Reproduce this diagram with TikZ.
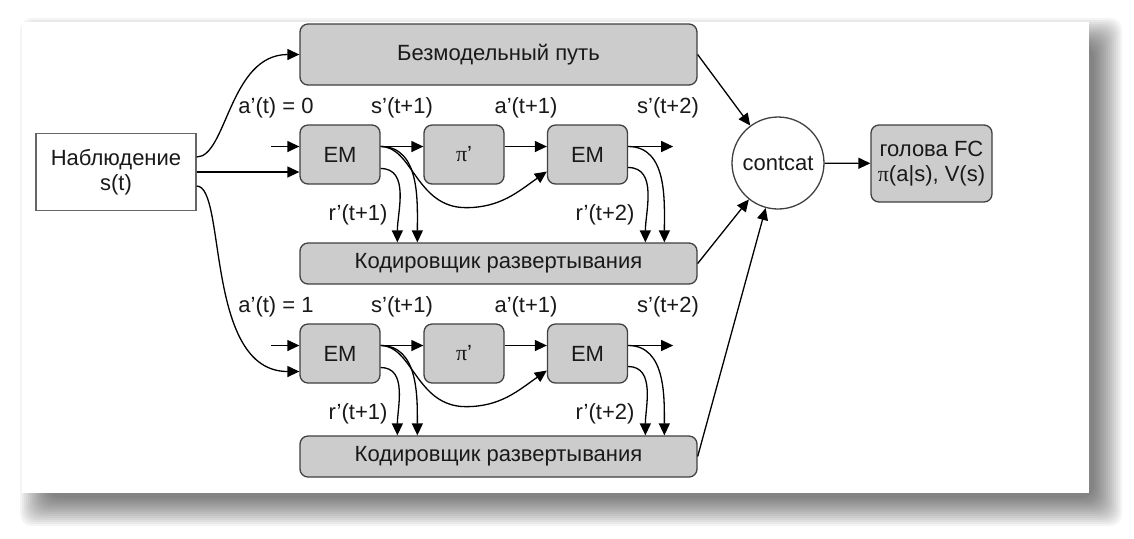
\documentclass[tikz,border=0pt]{standalone}
\usepackage{fontspec}
\setmainfont{Liberation Sans}
\newfontfamily\grfont{Liberation Serif}
\usetikzlibrary{arrows.meta,calc,positioning}
\tikzset{every picture/.style={line width=0.65pt}}

\begin{document}
\begin{tikzpicture}[x=0.5pt,y=-0.5pt,
    >={Triangle[length=6pt,width=5.5pt]},
    txt/.style={font=\fontsize{11}{12.5}\selectfont,text=black!90},
    blok/.style={txt,draw=black!75,fill=gray!40,rounded corners=4pt,inner sep=0pt},
    sm/.style={blok,minimum width=40pt,minimum height=29.5pt},
    wide/.style={blok,minimum width=198.5pt,minimum height=30.5pt},
    enc/.style={blok,minimum width=198.5pt,minimum height=20.5pt},
    lbl/.style={txt,inner sep=0pt}]
    \useasboundingbox (0,0) rectangle (1134,538);
    % тень и лист
    \foreach \i in {0,...,14}
        \fill[black,opacity=0.045,rounded corners=6pt] (48-2*\i,46-2*\i) rectangle (1094+2*\i,498+2*\i);
    \fill[white] (22,22) rectangle (1089,493);
    % вход и безмодельный путь
    \node[txt,draw=black!60,fill=white,minimum width=80pt,minimum height=38.5pt,align=center] (obs) at (116,172) {Наблюдение\\s(t)};
    \node[wide] (mf) at (498.5,54.5) {Безмодельный путь};
    % concat и голова
    \node[txt,draw=black!75,fill=white,circle,minimum size=46pt,inner sep=0pt] (cc) at (778,163) {contcat};
    \node[blok,minimum width=60.5pt,minimum height=38.5pt,align=center] (fc) at (931.5,163.5) {голова FC\\{\grfont π}(a|s), V(s)};
    % две ветви развертывания
    \foreach \r/\ym/\ye/\av in {a/154.5/263.5/0, b/353.5/456.5/1} {
        \node[sm] (em1\r) at (340,\ym) {EM};
        \node[sm] (pi\r) at (464,\ym) {{\grfont π}'};
        \node[sm] (em2\r) at (587.5,\ym) {EM};
        \node[enc] (enc\r) at (498.5,\ye) {Кодировщик развертывания};
        \node[lbl] (la\r) at (276,\ym-46.5) {a'(t) = \av};
        \node[lbl] (ls1\r) at (402,\ym-46.5) {s'(t+1)};
        \node[lbl] (la1\r) at (526,\ym-46.5) {a'(t+1)};
        \node[lbl] (ls2\r) at (668,\ym-46.5) {s'(t+2)};
        \node[lbl] (lr1\r) at (358,\ym+60) {r'(t+1)};
        \node[lbl] (lr2\r) at (605,\ym+60) {r'(t+2)};
        \coordinate (in\r) at ($(em1\r.west)+(-28,-8)$);
        \coordinate (s1\r) at ($(em1\r.east)+(0,-8)$);
        \coordinate (r1\r) at ($(em1\r.east)+(0,14)$);
        \coordinate (s2\r) at ($(em2\r.east)+(0,-8)$);
        \coordinate (r2\r) at ($(em2\r.east)+(0,13)$);
        \coordinate (out\r) at ($(em2\r.east)+(45,-8)$);
        \coordinate (dip\r) at ($(pi\r.south)+(2,23)$);
        \draw[->] (in\r) -- (in\r -| em1\r.west);
        \draw[->] (s1\r) -- (s1\r -| pi\r.west);
        \draw[->] (pi\r.east |- s1\r) -- (em2\r.west |- s1\r);
        \draw[->] (s2\r) -- (out\r);
        \draw[->] (s1\r) to[out=0,in=90] ($(enc\r.north west)+(118,0)$);
        \draw[->] (r1\r) to[out=0,in=90] ($(enc\r.north west)+(98,0)$);
        \draw[->] (s2\r) to[out=0,in=90] ($(enc\r.north west)+(365,0)$);
        \draw[->] (r2\r) to[out=0,in=90] ($(enc\r.north west)+(346,0)$);
        \draw[->] (s1\r) .. controls +(32,0) and +(-50,0) .. (dip\r) to[out=0,in=-145] ($(em2\r.west)+(0,17)$);
    }
    % связи от наблюдения
    \draw[->] ($(obs.east)+(0,-15)$) .. controls +(30,0) and +(-70,0) .. (mf.west);
    \draw[->] (obs.east) -- (obs.east -| em1a.west);
    \draw[->] ($(obs.east)+(0,14)$) .. controls +(30,0) and +(-95,0) .. ($(em1b.west)+(0,18)$);
    % в contcat
    \draw[->] (mf.east) -- (cc);
    \draw[->] (enca.east) -- (cc);
    \draw[->] (encb.east) -- (cc);
    \draw[->] (cc) -- (fc);
\end{tikzpicture}
\end{document}
